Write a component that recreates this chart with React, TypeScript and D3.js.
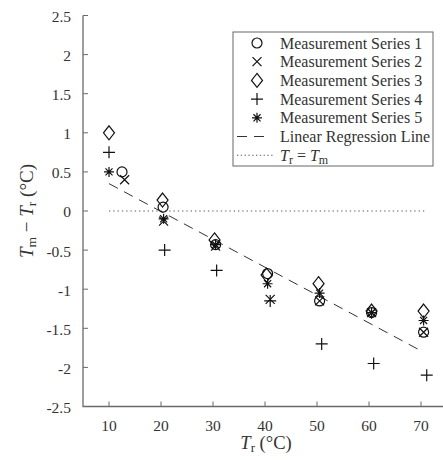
import React from 'react';
import * as d3 from 'd3';

// measured reference temperature T_r (°C) and deviation T_m - T_r (°C) per series
const s1X = [12.5, 20.4, 30.5, 40.5, 50.5, 60.5, 70.5];
const s1Y = [0.5, 0.05, -0.43, -0.8, -1.15, -1.3, -1.55];
const s2X = [13, 20.5, 30.5, 41, 50.5, 60.5, 70.5];
const s2Y = [0.4, -0.13, -0.45, -1.13, -1.15, -1.3, -1.55];
const s3X = [10, 20.3, 30.3, 40.3, 50.3, 60.5, 70.5];
const s3Y = [1.0, 0.14, -0.37, -0.82, -0.93, -1.28, -1.28];
const s4X = [10, 20.7, 30.7, 41, 50.9, 60.9, 71.1];
const s4Y = [0.75, -0.5, -0.76, -1.15, -1.7, -1.95, -2.1];
const s5X = [10, 20.5, 30.5, 40.5, 50.5, 60.5, 70.5];
const s5Y = [0.5, -0.1, -0.43, -0.93, -1.05, -1.3, -1.4];

const regX = [10, 69.5];
const regY = [0.35, -1.77];
const refX = [10, 71];

const xTicks = [10, 20, 30, 40, 50, 60, 70];
const yTicks = [2.5, 2, 1.5, 1, 0.5, 0, -0.5, -1, -1.5, -2, -2.5];

const legendLabels = [
  'Measurement Series 1',
  'Measurement Series 2',
  'Measurement Series 3',
  'Measurement Series 4',
  'Measurement Series 5',
  'Linear Regression Line',
];

const W = 443;
const H = 460;
const FONT = '"Liberation Serif", "DejaVu Serif", serif';
const AXIS = '#6a6a6a';
const TEXT = '#333';

function marker(kind: string, cx: number, cy: number) {
  const s = 5.5;
  switch (kind) {
    case 'circle':
      return <circle cx={cx} cy={cy} r={5} fill="none" stroke="#111" strokeWidth={1.2} />;
    case 'x':
      return (
        <path
          d={`M${cx - 4.5},${cy - 4.5}L${cx + 4.5},${cy + 4.5}M${cx - 4.5},${cy + 4.5}L${cx + 4.5},${cy - 4.5}`}
          stroke="#111" strokeWidth={1.2} fill="none" />
      );
    case 'diamond':
      return (
        <path
          d={`M${cx},${cy - 7}L${cx + 5.5},${cy}L${cx},${cy + 7}L${cx - 5.5},${cy}Z`}
          stroke="#111" strokeWidth={1.2} fill="none" />
      );
    case 'plus':
      return (
        <path
          d={`M${cx - s - 0.5},${cy}L${cx + s + 0.5},${cy}M${cx},${cy - s - 0.5}L${cx},${cy + s + 0.5}`}
          stroke="#111" strokeWidth={1.2} fill="none" />
      );
    default: {
      const r = 5;
      const a = r * Math.cos(Math.PI / 4);
      return (
        <path
          d={`M${cx - r},${cy}L${cx + r},${cy}M${cx},${cy - r}L${cx},${cy + r}M${cx - a},${cy - a}L${cx + a},${cy + a}M${cx - a},${cy + a}L${cx + a},${cy - a}`}
          stroke="#111" strokeWidth={1.2} fill="none" />
      );
    }
  }
}

export default function App() {
  const x = d3.scaleLinear().domain([5, 75]).range([83, 447]);
  const y = d3.scaleLinear().domain([-2.5, 2.5]).range([406.5, 15.5]);

  const series = [
    { kind: 'circle', xs: s1X, ys: s1Y },
    { kind: 'x', xs: s2X, ys: s2Y },
    { kind: 'diamond', xs: s3X, ys: s3Y },
    { kind: 'plus', xs: s4X, ys: s4Y },
    { kind: 'star', xs: s5X, ys: s5Y },
  ];

  const line = d3.line<[number, number]>().x(d => x(d[0])).y(d => y(d[1]));
  const regPts = regX.map((v, i) => [v, regY[i]] as [number, number]);
  const refPts = refX.map(v => [v, 0] as [number, number]);

  const lx = 233, ly = 32, lw = 200, lh = 134;
  const rowY = (i: number) => 43 + i * 18.7;

  return (
    <svg width={W} height={H} style={{ position: 'absolute', left: 0, top: 0, background: '#fff' }}
      fontFamily={FONT}>
      {/* reference line */}
      <path d={line(refPts) || ''} stroke="#555" strokeWidth={1.2} strokeDasharray="1.3,3" fill="none" />
      {/* regression */}
      <path d={line(regPts) || ''} stroke="#333" strokeWidth={1} strokeDasharray="10,7" fill="none" />

      {series.map(s => (
        <g key={s.kind}>
          {s.xs.map((v, i) => (
            <g key={i}>{marker(s.kind, x(v), y(s.ys[i]))}</g>
          ))}
        </g>
      ))}

      {/* axes */}
      <path d={`M${x(5)},${y(2.5)}V${y(-2.5)}H${x(75)}`} stroke={AXIS} strokeWidth={1.3} fill="none" />
      {yTicks.map(t => (
        <g key={'y' + t}>
          <line x1={x(5)} x2={x(5) + 5} y1={y(t)} y2={y(t)} stroke={AXIS} strokeWidth={1} />
          <text x={71} y={y(t) + 1} dy="0.35em" textAnchor="end" fontSize={15.5} fill={TEXT}>
            {t === 0 ? '0' : String(t)}
          </text>
        </g>
      ))}
      {xTicks.map(t => (
        <g key={'x' + t}>
          <line x1={x(t)} x2={x(t)} y1={y(-2.5)} y2={y(-2.5) - 5} stroke={AXIS} strokeWidth={1} />
          <text x={x(t)} y={y(-2.5) + 24} textAnchor="middle" fontSize={15.5} fill={TEXT}>{t}</text>
        </g>
      ))}

      {/* axis titles */}
      <text x={266} y={449} textAnchor="middle" fontSize={18.5} fill={TEXT}>
        <tspan fontStyle="italic">T</tspan><tspan fontSize={13} dy={3}>r</tspan>
        <tspan dy={-3}> (°C)</tspan>
      </text>
      <text transform={`translate(33,${y(0)}) rotate(-90)`} textAnchor="middle" fontSize={19} fill={TEXT}>
        <tspan fontStyle="italic">T</tspan><tspan fontSize={13.5} dy={3}>m</tspan>
        <tspan dy={-3}> − </tspan><tspan fontStyle="italic">T</tspan><tspan fontSize={13.5} dy={3}>r</tspan>
        <tspan dy={-3}> (°C)</tspan>
      </text>

      {/* legend */}
      <rect x={lx} y={ly} width={lw} height={lh} fill="#fff" stroke="#666" strokeWidth={1} />
      {series.map((s, i) => (
        <g key={'lg' + s.kind}>{marker(s.kind, 257, rowY(i))}</g>
      ))}
      <line x1={237} x2={271} y1={rowY(5)} y2={rowY(5)} stroke="#333" strokeWidth={1} strokeDasharray="10,7" />
      <line x1={237} x2={275} y1={rowY(6)} y2={rowY(6)} stroke="#555" strokeWidth={1.1} strokeDasharray="1.3,2.5" />
      {legendLabels.map((l, i) => (
        <text key={l} x={280} y={rowY(i)} dy="0.35em" fontSize={16} fill={TEXT}>{l}</text>
      ))}
      <text x={280} y={rowY(6)} dy="0.35em" fontSize={16} fill={TEXT}>
        <tspan fontStyle="italic">T</tspan><tspan fontSize={12} dy={3}>r</tspan>
        <tspan dy={-3}> = </tspan><tspan fontStyle="italic">T</tspan><tspan fontSize={12} dy={3}>m</tspan>
      </text>
    </svg>
  );
}
